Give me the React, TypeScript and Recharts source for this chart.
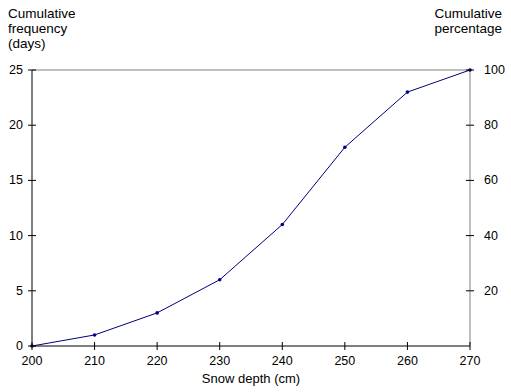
import { LineChart, Line, XAxis, YAxis, ReferenceLine } from 'recharts';

const depths = [200, 210, 220, 230, 240, 250, 260, 270];
const cumulativeDays = [0, 1, 3, 6, 11, 18, 23, 25];
const cumulativePct = [0, 4, 12, 24, 44, 72, 92, 100];
const xTicks = [200, 210, 220, 230, 240, 250, 260, 270];
const leftTicks = [0, 5, 10, 15, 20, 25];
const rightTicks = [20, 40, 60, 80, 100];

const data = depths.map((d, i) => ({ depth: d, days: cumulativeDays[i], pct: cumulativePct[i] }));

const FONT = '"Liberation Sans", Arial, sans-serif';
const NAVY = '#000080';

const LeftTick = ({ x, y, payload }: any) => (
  <g>
    <line x1={x - 4} x2={x + 4} y1={y} y2={y} stroke="#000" />
    <text x={x - 9} y={y} dy={4} textAnchor="end" fontSize={12.5} fill="#000" fontFamily={FONT}>
      {payload.value}
    </text>
  </g>
);

const RightTick = ({ x, y, payload }: any) => (
  <g>
    <line x1={x - 4} x2={x + 4} y1={y} y2={y} stroke="#000" />
    <text x={x + 14} y={y} dy={4} textAnchor="start" fontSize={12.5} fill="#000" fontFamily={FONT}>
      {payload.value}
    </text>
  </g>
);

const BottomTick = ({ x, y, payload }: any) => (
  <g>
    <line x1={x} x2={x} y1={y - 4} y2={y + 4} stroke="#000" />
    <text x={x} y={y + 19} textAnchor="middle" fontSize={12.5} fill="#000" fontFamily={FONT}>
      {payload.value}
    </text>
  </g>
);

const title: React.CSSProperties = {
  position: 'absolute',
  fontFamily: FONT,
  fontSize: 13.5,
  lineHeight: '15px',
  color: '#000',
};

export default function App() {
  return (
    <div style={{ position: 'absolute', left: 0, top: 0, width: 511, height: 392, background: '#fff' }}>
      <div style={{ ...title, left: 8, top: 6 }}>
        Cumulative<br />frequency<br />(days)
      </div>
      <div style={{ ...title, right: 9, top: 6, textAlign: 'right' }}>
        Cumulative<br />percentage
      </div>
      <div style={{ ...title, fontSize: 13, left: 0, width: 502, top: 371, textAlign: 'center' }}>Snow depth (cm)</div>
      <LineChart width={511} height={392} data={data} margin={{ top: 70, right: 0, bottom: 0, left: 0 }}>
        <XAxis
          dataKey="depth"
          type="number"
          domain={[200, 270]}
          ticks={xTicks}
          height={46}
          tickSize={0}
          tickMargin={0}
          tickLine={false}
          axisLine={{ stroke: '#000' }}
          tick={<BottomTick />}
          interval={0}
        />
        <YAxis
          yAxisId="left"
          domain={[0, 25]}
          ticks={leftTicks}
          width={32}
          tickSize={0}
          tickMargin={0}
          tickLine={false}
          axisLine={{ stroke: '#000' }}
          tick={<LeftTick />}
          interval={0}
        />
        <YAxis
          yAxisId="right"
          orientation="right"
          domain={[0, 100]}
          ticks={rightTicks}
          width={41}
          tickSize={0}
          tickMargin={0}
          tickLine={false}
          axisLine={{ stroke: '#808080' }}
          tick={<RightTick />}
          interval={0}
        />
        <ReferenceLine yAxisId="left" y={25} stroke="#808080" />
        <Line
          yAxisId="right"
          type="linear"
          dataKey="pct"
          stroke="none"
          dot={false}
          activeDot={false}
          isAnimationActive={false}
        />
        <Line
          yAxisId="left"
          type="linear"
          dataKey="days"
          stroke={NAVY}
          strokeWidth={1}
          dot={{ r: 1.8, fill: NAVY, stroke: NAVY, strokeWidth: 0 }}
          isAnimationActive={false}
        />
      </LineChart>
    </div>
  );
}
